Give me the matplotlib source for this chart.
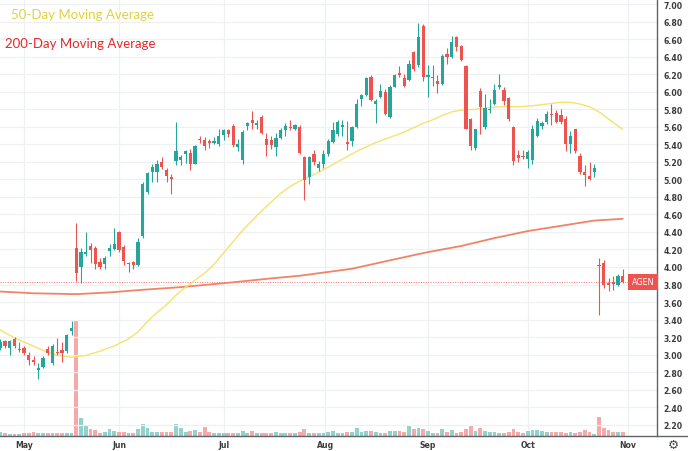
import matplotlib
matplotlib.use("Agg")
import matplotlib.pyplot as plt
import numpy as np
from matplotlib.transforms import blended_transform_factory
from matplotlib.lines import Line2D

# ---------------- data ----------------
opens = [3.08, 3.15, 3.08, 3.18, 3.05, 3.08, 3.00, 2.94, 2.83, 2.86,
         3.06, 2.90, 3.03, 3.05, 3.04, 3.27, 4.22, 4.00, 4.15, 4.24,
         4.22, 4.06, 4.03, 4.18, 4.21, 4.40, 4.23, 4.03, 4.06, 4.02,
         4.35, 4.86, 5.08, 5.08, 5.20, 5.11, 5.02, 5.21, 5.22, 5.29,
         5.30, 5.18, 5.46, 5.45, 5.44, 5.42, 5.40, 5.51, 5.56, 5.61,
         5.37, 5.22, 5.61, 5.68, 5.62, 5.71, 5.46, 5.45, 5.37, 5.47,
         5.56, 5.60, 5.57, 5.60, 5.25, 5.03, 5.29, 5.13, 5.18, 5.29,
         5.43, 5.52, 5.60, 5.43, 5.44, 5.60, 5.92, 5.96, 6.17, 5.86,
         5.94, 6.00, 5.71, 6.06, 6.21, 6.16, 6.13, 6.45, 6.30, 6.75,
         6.17, 6.16, 6.12, 6.09, 6.43, 6.40, 6.62, 6.52, 6.29, 5.69,
         5.36, 6.01, 5.60, 5.79, 5.86, 6.05, 6.02, 5.93, 5.60, 5.28,
         5.26, 5.23, 5.22, 5.49, 5.61, 5.65, 5.74, 5.76, 5.74, 5.69,
         5.40, 5.57, 5.27, 5.08, 5.04, 5.09, 4.02, 4.05, 3.82, 3.83,
         3.79, 3.90]
highs = [3.18, 3.17, 3.17, 3.20, 3.14, 3.10, 3.03, 2.98, 2.90, 2.98,
         3.10, 3.12, 3.19, 3.14, 3.23, 3.38, 4.50, 4.22, 4.40, 4.27,
         4.24, 4.10, 4.12, 4.26, 4.45, 4.41, 4.25, 4.06, 4.07, 4.33,
         4.97, 5.09, 5.18, 5.22, 5.26, 5.13, 5.06, 5.66, 5.28, 5.34,
         5.35, 5.39, 5.49, 5.48, 5.46, 5.48, 5.57, 5.57, 5.58, 5.63,
         5.46, 5.56, 5.66, 5.78, 5.68, 5.74, 5.53, 5.50, 5.53, 5.59,
         5.64, 5.68, 5.63, 5.62, 5.27, 5.27, 5.33, 5.21, 5.34, 5.46,
         5.65, 5.68, 5.68, 5.67, 5.61, 5.92, 5.98, 6.17, 6.19, 5.92,
         6.09, 6.03, 6.08, 6.20, 6.29, 6.20, 6.36, 6.47, 6.78, 6.77,
         6.30, 6.30, 6.19, 6.43, 6.50, 6.64, 6.64, 6.53, 6.30, 5.70,
         5.58, 6.04, 5.98, 5.92, 6.09, 6.20, 6.06, 5.94, 5.61, 5.34,
         5.33, 5.34, 5.62, 5.70, 5.67, 5.78, 5.86, 5.79, 5.80, 5.72,
         5.55, 5.58, 5.30, 5.16, 5.20, 5.18, 4.10, 4.08, 3.88, 3.90,
         3.92, 3.98]
lows = [3.05, 3.08, 3.00, 3.08, 3.03, 3.00, 2.88, 2.88, 2.72, 2.85,
        3.00, 2.88, 3.00, 2.92, 3.02, 3.22, 3.84, 3.82, 4.12, 4.05,
        3.98, 3.98, 3.98, 4.12, 4.19, 4.17, 4.02, 3.94, 3.98, 4.01,
        4.33, 4.83, 4.97, 4.97, 5.12, 4.97, 4.83, 5.16, 5.16, 5.19,
        5.11, 5.17, 5.42, 5.34, 5.36, 5.40, 5.38, 5.45, 5.48, 5.37,
        5.32, 5.18, 5.56, 5.58, 5.58, 5.52, 5.27, 5.35, 5.27, 5.46,
        5.50, 5.56, 5.56, 5.29, 4.76, 4.95, 5.16, 5.10, 5.13, 5.27,
        5.42, 5.50, 5.49, 5.34, 5.38, 5.59, 5.84, 5.95, 5.89, 5.64,
        5.93, 5.73, 5.70, 6.05, 6.17, 6.05, 6.12, 6.24, 6.28, 6.12,
        5.94, 6.07, 5.99, 6.08, 6.32, 6.39, 6.47, 6.35, 5.57, 5.33,
        5.34, 5.52, 5.57, 5.76, 5.85, 6.03, 5.85, 5.67, 5.16, 5.20,
        5.23, 5.13, 5.18, 5.48, 5.58, 5.63, 5.62, 5.64, 5.63, 5.32,
        5.30, 5.30, 5.06, 4.92, 4.99, 5.03, 3.45, 3.76, 3.73, 3.74,
        3.78, 3.82]
closes = [3.14, 3.10, 3.15, 3.10, 3.06, 3.02, 2.94, 2.92, 2.85, 2.96,
          3.02, 3.10, 3.02, 3.02, 3.22, 3.30, 3.93, 4.17, 4.17, 4.19,
          4.03, 4.00, 4.10, 4.22, 4.26, 4.19, 4.07, 4.04, 4.02, 4.28,
          4.95, 5.07, 5.14, 5.18, 5.14, 5.04, 5.01, 5.32, 5.26, 5.32,
          5.18, 5.38, 5.45, 5.38, 5.42, 5.44, 5.49, 5.56, 5.52, 5.39,
          5.40, 5.54, 5.64, 5.64, 5.64, 5.53, 5.39, 5.39, 5.47, 5.56,
          5.61, 5.59, 5.62, 5.30, 4.99, 5.25, 5.20, 5.17, 5.29, 5.44,
          5.56, 5.65, 5.62, 5.40, 5.60, 5.86, 5.96, 6.16, 5.91, 5.90,
          6.01, 5.75, 6.05, 6.19, 6.19, 6.07, 6.32, 6.26, 6.62, 6.17,
          6.19, 6.17, 6.09, 6.41, 6.40, 6.57, 6.51, 6.36, 5.58, 5.38,
          5.57, 5.83, 5.82, 5.80, 6.02, 6.08, 5.90, 5.69, 5.21, 5.24,
          5.25, 5.31, 5.57, 5.67, 5.64, 5.75, 5.73, 5.66, 5.65, 5.40,
          5.49, 5.32, 5.08, 5.05, 5.00, 5.13, 4.01, 3.79, 3.79, 3.81,
          3.90, 3.83]
volumes = [1.2, 1.0, 0.7, 0.7, 0.7, 0.8, 1.0, 1.1, 1.0, 1.0,
           0.9, 0.8, 0.9, 0.9, 1.0, 0.9, 34.5, 5.5, 3.3, 2.0,
           1.7, 1.0, 1.2, 2.0, 1.5, 1.3, 1.3, 1.0, 0.9, 2.0,
           3.7, 2.5, 1.3, 1.2, 1.3, 1.2, 1.2, 3.7, 2.5, 1.3,
           1.5, 1.7, 1.3, 2.7, 1.2, 1.0, 1.0, 1.0, 0.8, 1.0,
           1.0, 1.4, 1.0, 1.4, 0.9, 1.0, 1.0, 0.8, 1.1, 1.0,
           0.9, 0.8, 0.9, 1.2, 2.0, 1.0, 0.9, 0.9, 1.0, 1.3,
           1.4, 1.0, 0.8, 1.2, 1.3, 2.5, 1.2, 1.4, 1.4, 1.3,
           1.0, 1.0, 1.5, 1.5, 1.4, 1.2, 3.2, 2.2, 2.5, 2.2,
           1.6, 1.0, 1.0, 2.0, 1.2, 1.8, 1.0, 1.2, 2.2, 3.0,
           1.5, 2.5, 1.4, 1.2, 1.2, 1.0, 1.0, 1.2, 2.2, 1.2,
           1.0, 1.4, 1.8, 1.8, 1.4, 1.3, 1.3, 1.3, 1.2, 1.0,
           1.2, 1.0, 1.3, 1.8, 1.2, 0.5, 5.8, 2.5, 1.8, 1.2,
           1.2, 1.2]

ma50_bar = [0, 3, 6, 9, 12, 15, 18, 21, 24, 27, 29, 31, 33, 35, 37, 39, 41,
            43, 45, 47, 49, 51, 53, 55, 57, 59, 61, 63, 65, 67, 69, 71, 73,
            75, 77, 79, 81, 83, 85, 87, 89, 91, 93, 95, 97, 100, 103, 106,
            109, 112, 115, 118, 120, 122, 124, 126, 128, 130, 131]
ma50_val = [3.28, 3.19, 3.12, 3.05, 2.99, 2.97, 2.99, 3.04, 3.10, 3.18, 3.26,
            3.38, 3.48, 3.57, 3.68, 3.77, 3.85, 3.93, 4.03, 4.16, 4.29, 4.42,
            4.53, 4.64, 4.74, 4.84, 4.92, 4.98, 5.03, 5.08, 5.14, 5.20, 5.26,
            5.32, 5.37, 5.42, 5.46, 5.50, 5.54, 5.59, 5.64, 5.68, 5.73, 5.77,
            5.79, 5.80, 5.82, 5.83, 5.83, 5.84, 5.86, 5.88, 5.88, 5.86, 5.83,
            5.77, 5.69, 5.61, 5.57]
ma200_bar = [0, 7, 16, 23, 30, 38, 42, 48, 57, 63, 74, 84, 90, 97, 104, 111,
             118, 125, 131]
ma200_val = [3.72, 3.70, 3.69, 3.71, 3.74, 3.77, 3.79, 3.82, 3.87, 3.90, 3.98,
             4.10, 4.17, 4.24, 4.33, 4.41, 4.47, 4.53, 4.55]

month_labels = ["May", "Jun", "Jul", "Aug", "Sep", "Oct", "Nov"]
month_pos = [5, 25, 47, 68.4, 90, 111, 132]
price_ticks = np.round(np.arange(2.2, 7.001, 0.2), 2)
last_price = 3.83
ticker = "AGEN"

# ---------------- styling ----------------
UP = "#26a69a"
DOWN = "#ef5350"
VOL_UP = "#92d2cc"
VOL_DOWN = "#f6a9a7"
MA50_C = "#f4e36c"
MA200_C = "#f08468"
GRID = "#eef0f3"
AXIS_C = "#60636b"
TXT = "#3c3c3c"

fig = plt.figure(figsize=(6.88, 4.52), dpi=100)
fig.patch.set_facecolor("white")
rect = [0, 15 / 452, 656.5 / 688, 437 / 452]
axv = fig.add_axes(rect)
ax = fig.add_axes(rect, sharex=axv)
ax.patch.set_visible(False)

n = len(closes)
x = np.arange(n)
o = np.array(opens); c = np.array(closes)
h = np.array(highs); l = np.array(lows)
up = c >= o

# volume (background axes)
vcol = [VOL_UP if u else VOL_DOWN for u in up]
axv.bar(x, volumes, width=0.8, color=vcol, linewidth=0)
axv.set_ylim(0, 131.1)
axv.set_yticks([])
axv.tick_params(axis="x", length=0, labelbottom=False)
for s in axv.spines.values():
    s.set_visible(False)
axv.set_xticks(month_pos)
axv.grid(axis="x", color=GRID, linewidth=0.9)
axv.set_axisbelow(True)

# price axes
ax.set_xlim(-0.06, 138.1)
ax.set_ylim(2.071, 7.059)
ax.set_yticks(price_ticks)
ax.yaxis.tick_right()
ax.set_yticklabels([f"{p:.2f}" for p in price_ticks])
ax.grid(axis="y", color=GRID, linewidth=0.9, zorder=0)
ax.set_xticks(month_pos)
ax.set_xticklabels(month_labels)
ax.tick_params(axis="y", length=0, pad=5.2, labelsize=5.6, labelcolor=TXT)
ax.tick_params(axis="x", length=0, pad=3.2, labelsize=5.6, labelcolor=TXT)
for lab in ax.get_xticklabels() + ax.get_yticklabels():
    lab.set_fontweight("semibold")
for k, s in ax.spines.items():
    s.set_visible(False)
ax.spines["right"].set_visible(True)
ax.spines["right"].set_color(AXIS_C)
ax.spines["right"].set_linewidth(1.0)

# moving averages
ax.plot(ma200_bar, ma200_val, color=MA200_C, linewidth=1.3, zorder=2,
        solid_capstyle="round", solid_joinstyle="round")
ax.plot(ma50_bar, ma50_val, color=MA50_C, linewidth=1.0, zorder=2,
        solid_capstyle="round", solid_joinstyle="round")

# last price dotted line
ax.axhline(last_price, color=DOWN, linewidth=0.7, linestyle=(0, (1, 1.5)),
           alpha=0.8, zorder=1)

# candles
ccol = [UP if u else DOWN for u in up]
ax.vlines(x, l, h, colors=ccol, linewidth=0.8, zorder=3)
body_bottom = np.minimum(o, c)
body_h = np.maximum(np.abs(c - o), 0.012)
ax.bar(x, body_h, bottom=body_bottom, width=0.68, color=ccol, linewidth=0,
       zorder=4)

# ticker tag on price scale
tr = blended_transform_factory(ax.transAxes, ax.transData)
ax.text(0.997, last_price, ticker, transform=tr, ha="right", va="center",
        fontsize=5.8, color="white", zorder=6,
        bbox=dict(boxstyle="square,pad=0.45", facecolor=DOWN, edgecolor="none"))

# bottom axis line spanning the full width
fig.add_artist(Line2D([0, 1], [15 / 452, 15 / 452], transform=fig.transFigure,
                      color=AXIS_C, linewidth=1.0))
fig.text(673 / 688, 1 - 445 / 452, "\u2699", ha="center", va="center",
         fontsize=9, color="#444444")

# legend texts
fig.text(11.5 / 688, 1 - 15 / 452, "50-Day Moving Average", color="#e3d23c",
         fontsize=9.5, family=["Lato", "DejaVu Sans"], va="center", ha="left")
fig.text(5 / 688, 1 - 44.5 / 452, "200-Day Moving Average", color="#e22a2c",
         fontsize=9.5, family=["Lato", "DejaVu Sans"], va="center", ha="left")

fig.savefig("out.png", dpi=100, facecolor="white")
